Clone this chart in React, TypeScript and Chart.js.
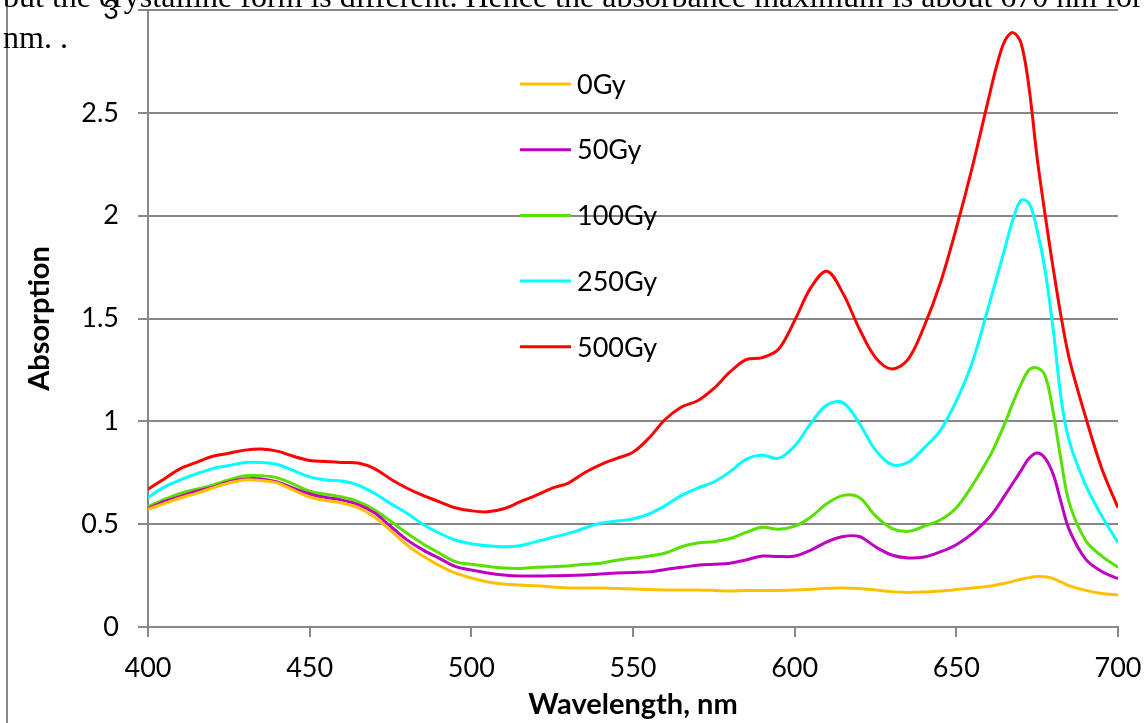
import React, { useEffect, useRef } from "react";
import { Chart, registerables } from "chart.js";

Chart.register(...registerables);

const wavelengths = [
  400, 405, 410, 415, 420, 425, 430, 435, 440, 445,
  450, 455, 460, 465, 470, 475, 480, 485, 490, 495,
  500, 505, 510, 515, 520, 525, 530, 535, 540, 545,
  550, 555, 560, 565, 570, 575, 580, 585, 590, 595,
  600, 605, 610, 615, 620, 625, 630, 635, 640, 645,
  650, 655, 660,
  662.5, 665, 667.5, 670, 672.5, 675, 677.5, 680, 682.5, 685, 690, 695, 700,
];

const gy0 = [
  0.572, 0.6, 0.627, 0.65, 0.676, 0.7, 0.715, 0.712, 0.7, 0.665,
  0.632, 0.615, 0.603, 0.58, 0.535, 0.47, 0.4, 0.345, 0.3, 0.263,
  0.238, 0.219, 0.209, 0.204, 0.2, 0.195, 0.19, 0.19, 0.19, 0.187,
  0.185, 0.182, 0.18, 0.18, 0.18, 0.178, 0.175, 0.177, 0.178, 0.178,
  0.18, 0.183, 0.188, 0.19, 0.187, 0.18, 0.172, 0.168, 0.17, 0.175,
  0.182, 0.19, 0.198,
  0.205, 0.213, 0.222, 0.232, 0.24, 0.245, 0.244, 0.235, 0.218, 0.2, 0.178, 0.163, 0.155,
];

const gy50 = [
  0.575, 0.61, 0.635, 0.66, 0.68, 0.705, 0.72, 0.72, 0.705, 0.675,
  0.647, 0.63, 0.617, 0.595, 0.555, 0.49, 0.425, 0.375, 0.335, 0.295,
  0.277, 0.263, 0.253, 0.248, 0.248, 0.249, 0.25, 0.253, 0.258, 0.262,
  0.265, 0.268, 0.28, 0.29, 0.3, 0.305, 0.31, 0.326, 0.345, 0.343,
  0.345, 0.374, 0.414, 0.44, 0.44, 0.39, 0.35, 0.336, 0.34, 0.365,
  0.4, 0.455, 0.53,
  0.58, 0.64, 0.7, 0.76, 0.82, 0.846, 0.82, 0.74, 0.6, 0.47, 0.33, 0.27, 0.235,
];

const gy100 = [
  0.585, 0.62, 0.65, 0.67, 0.69, 0.715, 0.735, 0.735, 0.725, 0.695,
  0.66, 0.645, 0.632, 0.61, 0.57, 0.515, 0.457, 0.405, 0.36, 0.318,
  0.305, 0.295, 0.287, 0.285, 0.29, 0.293, 0.297, 0.305, 0.31, 0.325,
  0.335, 0.345, 0.36, 0.39, 0.408, 0.415, 0.43, 0.46, 0.485, 0.475,
  0.49, 0.535, 0.6, 0.64, 0.63, 0.54, 0.48, 0.465, 0.49, 0.52,
  0.58, 0.69, 0.82,
  0.9, 0.99, 1.09, 1.18, 1.25, 1.26, 1.22, 1.04, 0.8, 0.6, 0.42, 0.345, 0.29,
];

const gy250 = [
  0.63, 0.68, 0.715, 0.745, 0.77, 0.785, 0.8, 0.8, 0.79, 0.76,
  0.73, 0.715, 0.71, 0.69, 0.65, 0.6, 0.554, 0.5, 0.457, 0.423,
  0.405, 0.395, 0.39, 0.395, 0.415, 0.435, 0.455, 0.48, 0.505, 0.515,
  0.525, 0.55, 0.59, 0.64, 0.675, 0.705, 0.755, 0.815, 0.835, 0.82,
  0.88, 0.99, 1.08, 1.09, 0.99, 0.86, 0.79, 0.8, 0.87, 0.955,
  1.1, 1.29, 1.56,
  1.7, 1.84, 1.98, 2.075, 2.06, 1.93, 1.73, 1.44, 1.1, 0.9, 0.69, 0.54, 0.41,
];

const gy500 = [
  0.67, 0.72, 0.77, 0.8, 0.83, 0.845, 0.86, 0.865, 0.855, 0.83,
  0.81, 0.805, 0.8, 0.797, 0.77, 0.72, 0.676, 0.64, 0.61, 0.58,
  0.565, 0.56, 0.575, 0.608, 0.64, 0.675, 0.7, 0.75, 0.79, 0.82,
  0.85, 0.92, 1.01, 1.07, 1.1, 1.16, 1.24, 1.3, 1.31, 1.35,
  1.49, 1.65, 1.73, 1.62, 1.45, 1.31, 1.255, 1.3, 1.46, 1.67,
  1.94, 2.24, 2.57,
  2.73, 2.85, 2.89, 2.84, 2.62, 2.28, 2.0, 1.74, 1.5, 1.3, 1.02, 0.77, 0.58,
];

const seriesLabels = ["0Gy", "50Gy", "100Gy", "250Gy", "500Gy"];
const seriesValues = [gy0, gy50, gy100, gy250, gy500];
const seriesColors = ["#FFC000", "#C000C0", "#58E000", "#00FFFF", "#FF0000"];

const xTitle = "Wavelength, nm";
const yTitle = "Absorption";
const docLine1 =
  "but the crystalline form is different. Hence the absorbance maximum is about 670 nm for";
const docLine2 = "nm. .";

const FONT = "Lato, 'Open Sans', sans-serif";
const GRID = "#878787";

const insideLegend = {
  id: "insideLegend",
  afterDatasetsDraw(chart: any) {
    const { ctx, chartArea } = chart;
    const x0 = chartArea.left + 372;
    const y0 = chartArea.top + 74;
    const gap = 65.7;
    ctx.save();
    ctx.font = `27px ${FONT}`;
    ctx.textBaseline = "middle";
    ctx.textAlign = "left";
    chart.data.datasets.forEach((ds: any, i: number) => {
      const y = y0 + i * gap;
      ctx.strokeStyle = ds.borderColor;
      ctx.lineWidth = 3;
      ctx.beginPath();
      ctx.moveTo(x0, y);
      ctx.lineTo(x0 + 51, y);
      ctx.stroke();
      ctx.fillStyle = "#000";
      ctx.fillText(ds.label, x0 + 57, y + 1);
    });
    ctx.restore();
  },
};

export default function App() {
  const canvasRef = useRef<HTMLCanvasElement | null>(null);

  useEffect(() => {
    let chart: Chart | null = null;
    let cancelled = false;
    const make = () => {
      if (cancelled || !canvasRef.current) return;
      chart = new Chart(canvasRef.current, {
        type: "line",
        data: {
          datasets: seriesLabels.map((label, i) => ({
            label,
            data: wavelengths.map((w, j) => ({ x: w, y: seriesValues[i][j] })),
            borderColor: seriesColors[i],
            backgroundColor: seriesColors[i],
            borderWidth: 3,
            pointRadius: 0,
            tension: 0.35,
            fill: false,
          })),
        },
        options: {
          animation: false,
          responsive: false,
          maintainAspectRatio: false,
          layout: { padding: { left: 0, right: 30, top: 10, bottom: 0 } },
          plugins: {
            legend: { display: false },
            tooltip: { enabled: false },
          },
          scales: {
            x: {
              type: "linear",
              min: 400,
              max: 700,
              afterFit: (s: any) => {
                s.height = 96;
                s.paddingLeft = 0;
                s.paddingRight = 0;
              },
              ticks: {
                stepSize: 50,
                color: "#000",
                font: { family: FONT, size: 27 },
                padding: 15,
                maxRotation: 0,
              },
              grid: {
                drawOnChartArea: false,
                drawTicks: true,
                tickLength: 10,
                color: GRID,
                lineWidth: 2,
              },
              border: { display: true, color: GRID, width: 2 },
              title: {
                display: true,
                text: xTitle,
                color: "#000",
                font: { family: FONT, size: 29, weight: "bold" },
                padding: { top: 0, bottom: 1 },
              },
            },
            y: {
              min: 0,
              max: 3,
              afterFit: (s: any) => {
                s.width = 148;
                s.paddingTop = 0;
                s.paddingBottom = 0;
              },
              ticks: {
                stepSize: 0.5,
                color: "#000",
                font: { family: FONT, size: 27 },
                padding: 19,
                callback: (v: any) => String(Number(v)),
              },
              grid: {
                drawTicks: true,
                tickLength: 10,
                color: GRID,
                lineWidth: 2,
              },
              border: { display: true, color: GRID, width: 2 },
              title: {
                display: true,
                text: yTitle,
                color: "#000",
                font: { family: FONT, size: 29, weight: "bold" },
                padding: { top: 22, bottom: 0 },
              },
            },
          },
        },
        plugins: [insideLegend],
      });
    };
    const fonts = (document as any).fonts;
    if (fonts && fonts.load) {
      Promise.all([
        fonts.load(`27px Lato`),
        fonts.load(`bold 29px Lato`),
      ]).then(make, make);
    } else {
      make();
    }
    return () => {
      cancelled = true;
      if (chart) chart.destroy();
    };
  }, []);

  return (
    <div
      style={{
        position: "fixed",
        left: 0,
        top: 0,
        width: 1148,
        height: 723,
        background: "#fff",
        overflow: "hidden",
      }}
    >
      <canvas
        ref={canvasRef}
        width={1148}
        height={723}
        style={{ position: "absolute", left: 0, top: 0, width: 1148, height: 723 }}
      />
      <div
        style={{
          position: "absolute",
          left: 6,
          top: 0,
          width: 2,
          height: 723,
          background: "#888",
        }}
      />
      <div
        style={{
          position: "absolute",
          left: 3,
          top: -24,
          whiteSpace: "nowrap",
          fontFamily: "'Liberation Serif', 'Times New Roman', serif",
          fontSize: 32,
          lineHeight: "41px",
          color: "#000",
          pointerEvents: "none",
        }}
      >
        <div>{docLine1}</div>
        <div>{docLine2}</div>
      </div>
    </div>
  );
}
